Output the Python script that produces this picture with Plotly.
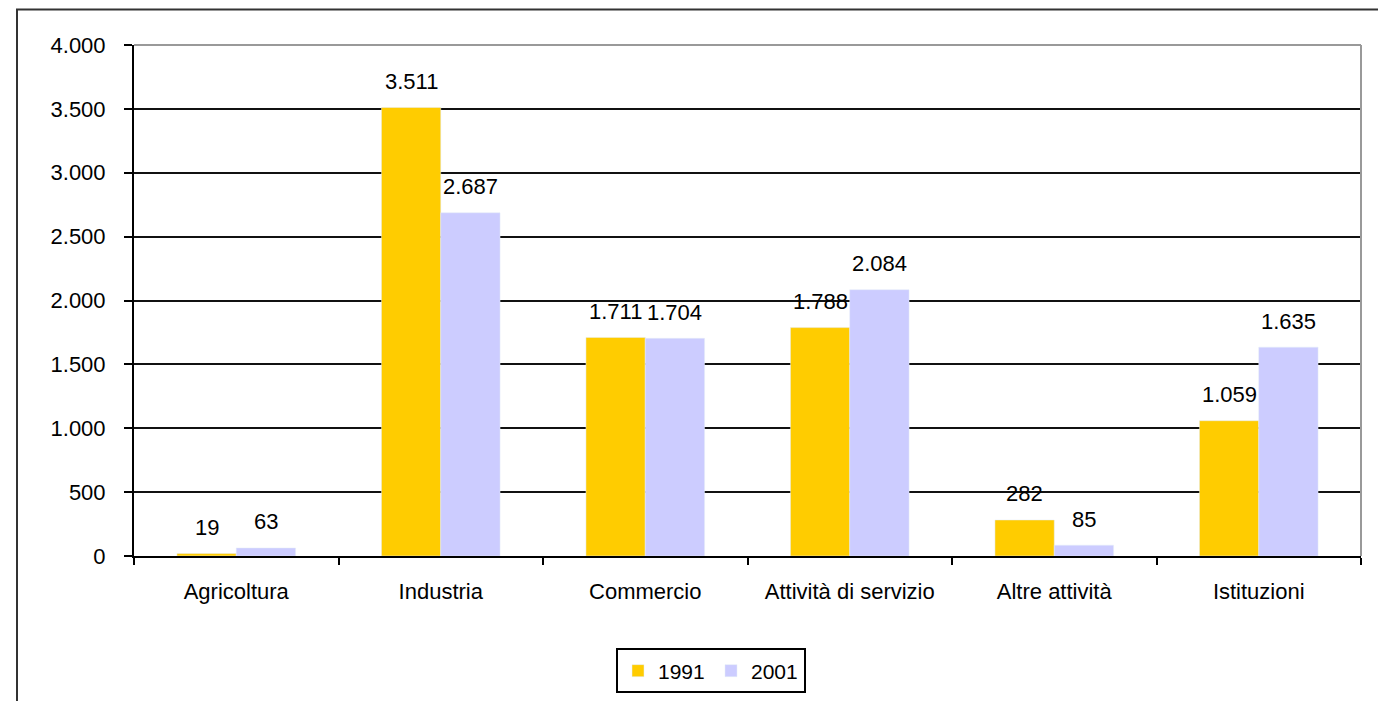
import plotly.graph_objects as go

# data
categories = ["Agricoltura", "Industria", "Commercio", "Attività di servizio", "Altre attività", "Istituzioni"]
values_1991 = [19, 3511, 1711, 1788, 282, 1059]
values_2001 = [63, 2687, 1704, 2084, 85, 1635]
y_ticks = [0, 500, 1000, 1500, 2000, 2500, 3000, 3500, 4000]

FONT = "Liberation Sans, Arial, sans-serif"
W, H = 1386, 701
# page body has an 8px margin, so shift everything up/left by 8
L, T = 126, 37
PW, PH = 1227, 511
R, B = W - L - PW, H - T - PH

fig = go.Figure()
fig.add_trace(go.Bar(x=categories, y=values_1991, name="1991", marker_color="#FFCC00"))
fig.add_trace(go.Bar(x=categories, y=values_2001, name="2001", marker_color="#CCCCFF"))

# value labels above bars (Italian thousand separator)
def fmt(v):
    return f"{v:,}".replace(",", ".")

annotations = []
for vals, shift in [(values_1991, -29.6), (values_2001, 29.6)]:
    for c, v in zip(categories, vals):
        annotations.append(dict(x=c, y=v, xref="x", yref="y", text=fmt(v), showarrow=False,
                                xshift=shift, yshift=26, yanchor="middle",
                                font=dict(family=FONT, size=22, color="#000000")))

shapes = [
    # plot area border (top / right), grey
    dict(type="line", xref="paper", yref="paper", x0=0, x1=1, y0=1, y1=1, line=dict(color="#999999", width=2)),
    dict(type="line", xref="paper", yref="paper", x0=1, x1=1, y0=0, y1=1, line=dict(color="#999999", width=2)),
    # outer chart frame
    dict(type="rect", xref="paper", yref="paper", x0=(9 - L) / PW, x1=1.2,
         y0=-0.6, y1=1 + (T - 1.5) / PH, line=dict(color="#333333", width=2)),
]

fig.update_layout(
    width=W, height=H,
    margin=dict(l=L, r=R, t=T, b=B),
    plot_bgcolor="white", paper_bgcolor="white",
    separators=",.",
    barmode="group", bargap=0.42, bargroupgap=0,
    font=dict(family=FONT, size=22, color="#000000"),
    showlegend=True,
    legend=dict(orientation="h", x=(711 - 134) / PW, xanchor="center", y=-0.225, yanchor="middle",
                bordercolor="black", borderwidth=2, font=dict(size=21), itemwidth=30,
                entrywidth=48, tracegroupgap=0),
    annotations=annotations,
    shapes=shapes,
    xaxis=dict(showline=True, linecolor="black", linewidth=2, ticks="outside", tickson="boundaries",
               ticklen=7, tickcolor="black", tickwidth=2, showgrid=False, ticklabelstandoff=15),
    yaxis=dict(range=[0, 4000], tickvals=y_ticks, tickformat=",d", showline=True, linecolor="black",
               linewidth=2, ticks="outside", ticklen=8, tickcolor="black", tickwidth=2,
               showgrid=True, gridcolor="#111111", gridwidth=1.5, zeroline=False, ticklabelstandoff=14),
)

fig.write_html("out.html")
